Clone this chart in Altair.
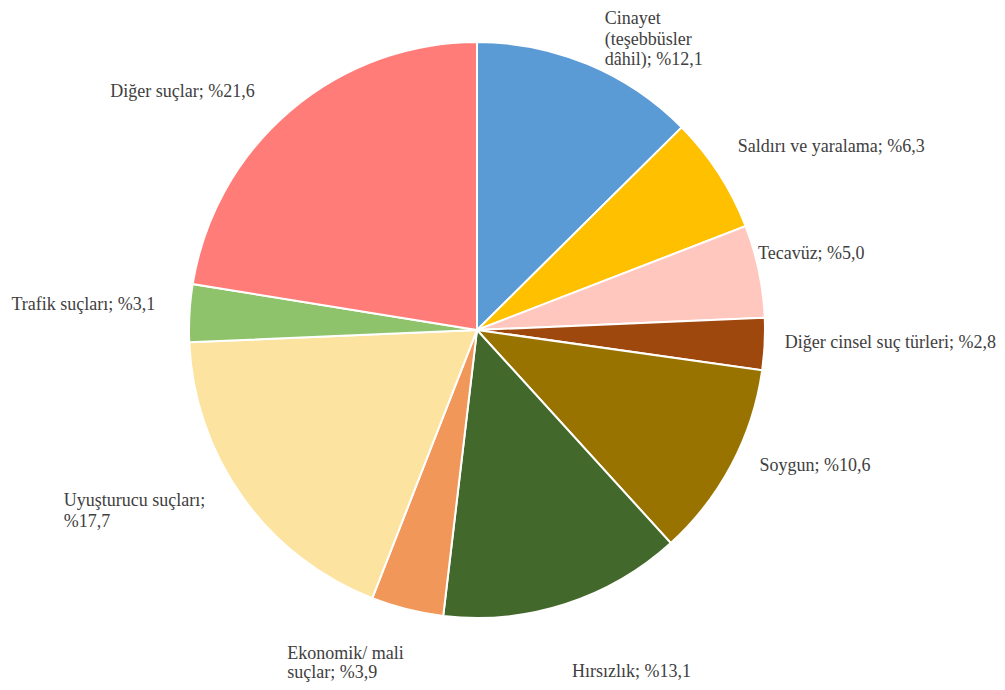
import altair as alt
import pandas as pd

CATEGORIES = [
    "Cinayet (teşebbüsler dâhil)", "Saldırı ve yaralama", "Tecavüz",
    "Diğer cinsel suç türleri", "Soygun", "Hırsızlık",
    "Ekonomik/ mali suçlar", "Uyuşturucu suçları", "Trafik suçları", "Diğer suçlar",
]
VALUES = [12.1, 6.3, 5.0, 2.8, 10.6, 13.1, 3.9, 17.7, 3.1, 21.6]
LABELS = [
    "Cinayet\n(teşebbüsler\ndâhil); %12,1",
    "Saldırı ve yaralama; %6,3",
    "Tecavüz; %5,0",
    "Diğer cinsel suç türleri; %2,8",
    "Soygun; %10,6",
    "Hırsızlık; %13,1",
    "\u00a0Ekonomik/ mali\nsuçlar; %3,9",
    "Uyuşturucu suçları;\n%17,7",
    "Trafik suçları; %3,1",
    "Diğer suçlar; %21,6",
]
COLORS = ["#5B9BD5", "#FFC000", "#FFC7BD", "#9E480E", "#997300",
          "#43682B", "#F1975A", "#FCE4A0", "#8FC36B", "#FF7C78"]

# label layout: (dx, dy, lineHeight) relative to the slice's mid-angle point on the rim
LABEL_LAYOUT = [(17, -40, 20.5), (19, -21, 20.5), (-1, -12, 20.5), (20, 4, 20.5),
                (28, 6, 20.5), (7, 73, 20.5), (-120, 50, 19), (-179, 9, 20.5),
                (-178, -3, 20.5), (-180, -14, 20.5)]

df = pd.DataFrame({"cat": CATEGORIES, "value": VALUES, "label": LABELS,
                   "idx": list(range(len(VALUES)))})
R = 288
FONT = "Liberation Serif"

base = alt.Chart(df)
theta = alt.Theta("value:Q", stack=True)
order = alt.Order("idx:Q")

pie = base.mark_arc(radius=R, stroke="white", strokeWidth=2).encode(
    theta=theta,
    color=alt.Color("cat:N", scale=alt.Scale(domain=CATEGORIES, range=COLORS), legend=None),
    order=order,
)

layers = [pie]
for i, (dx, dy, lh) in enumerate(LABEL_LAYOUT):
    t = base.mark_text(
        radius=R, dx=dx, dy=dy, align="left", baseline="alphabetic",
        font=FONT, fontSize=18, color="#404040", lineBreak="\n", lineHeight=lh,
    ).encode(
        theta=theta,
        order=order,
        text=alt.condition(alt.datum.idx == i, alt.Text("label:N"), alt.value("")),
    )
    layers.append(t)

chart = alt.layer(*layers).properties(
    width=938, height=624,
    autosize=alt.AutoSizeParams(type="none"),
    padding={"left": 0, "top": 10, "right": 51, "bottom": 40},
).configure_view(stroke=None)

chart.save("out.html", embed_options={"renderer": "svg", "actions": False})
